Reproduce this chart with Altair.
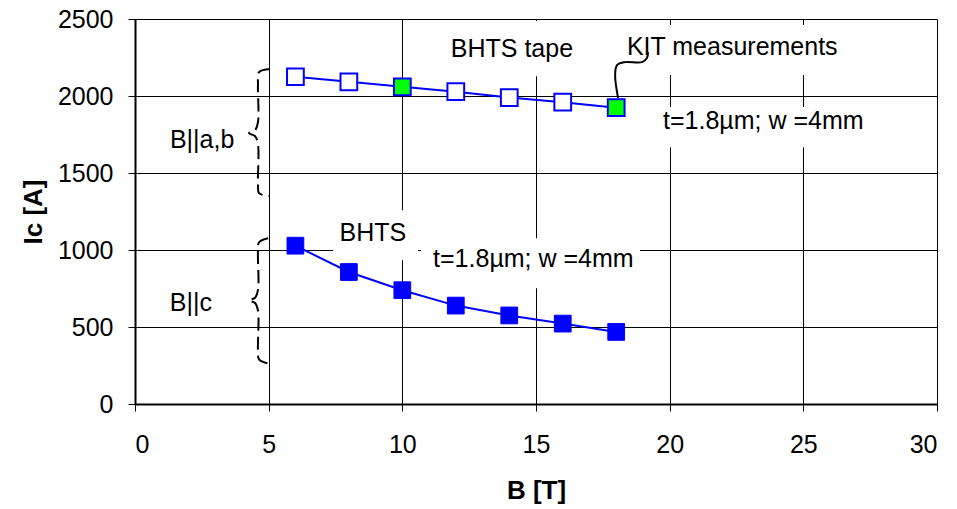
import altair as alt
import pandas as pd

# ---- data ----
B_field = [6, 8, 10, 12, 14, 16, 18]
ic_ab = [2125, 2092, 2060, 2028, 1990, 1960, 1924]   # B||a,b (open squares)
ic_c = [1028, 857, 739, 639, 575, 522, 468]          # B||c (filled squares)
kit_flag = [False, False, True, False, False, False, True]

x_ticks = [0, 5, 10, 15, 20, 25, 30]
y_ticks = [0, 500, 1000, 1500, 2000, 2500]

# annotation texts (data coordinates)
ann_text = ["BHTS tape", "KIT measurements", "t=1.8µm; w =4mm", "B||a,b", "BHTS", "t=1.8µm; w =4mm", "B||c"]
ann_x = [14.10, 18.40, 19.75, 2.51, 8.90, 11.15, 2.09]
ann_y = [2305, 2318, 1837, 1713, 1109, 940, 653]
ann_align = ["center", "left", "left", "center", "center", "left", "center"]

# white label boxes behind texts
box_x = [11.41, 18.14, 19.45, 7.41, 10.70]
box_x2 = [16.72, 26.82, 27.57, 10.59, 18.89]
box_y = [2487, 2461, 1928, 1258, 1076]
box_y2 = [2129, 2136, 1668, 933, 751]

# curly braces
brace_ab_x = [5.05, 4.64, 4.60, 4.60, 4.49, 4.26, 4.49, 4.60, 4.60, 4.64, 5.05]
brace_ab_y = [2175, 2155, 2071, 1831, 1778, 1759, 1739, 1687, 1421, 1369, 1349]
brace_c_x = [4.98, 4.64, 4.60, 4.60, 4.49, 4.26, 4.49, 4.60, 4.60, 4.64, 4.98]
brace_c_y = [1076, 1050, 990, 740, 690, 673, 656, 606, 350, 290, 263]

# KIT connector
conn_x = [18.07, 17.96, 18.03, 18.33, 18.97, 19.15, 19.19]
conn_y = [1986, 2136, 2201, 2220, 2220, 2246, 2285]

FONT = "Liberation Sans"
FS = 25

upper = pd.DataFrame({"B": B_field, "Ic": ic_ab, "kit": kit_flag})
lower = pd.DataFrame({"B": B_field, "Ic": ic_c})
ann = pd.DataFrame({"t": ann_text, "x": ann_x, "y": ann_y, "al": ann_align})
boxes = pd.DataFrame({"x": box_x, "x2": box_x2, "y": box_y, "y2": box_y2})
br1 = pd.DataFrame({"x": brace_ab_x, "y": brace_ab_y, "o": list(range(len(brace_ab_x)))})
br2 = pd.DataFrame({"x": brace_c_x, "y": brace_c_y, "o": list(range(len(brace_c_x)))})
conn = pd.DataFrame({"x": conn_x, "y": conn_y, "o": list(range(len(conn_x)))})

xs = alt.Scale(domain=[0, 30], nice=False)
ys = alt.Scale(domain=[0, 2500], nice=False)

X = alt.X("B:Q", scale=xs, axis=alt.Axis(values=x_ticks, title="B [T]", format="d"))
Y = alt.Y("Ic:Q", scale=ys, axis=alt.Axis(values=y_ticks, title="Ic [A]", format="d"))

box_layer = alt.Chart(boxes).mark_rect(color="white").encode(
    x=alt.X("x:Q", scale=xs), x2="x2:Q", y=alt.Y("y:Q", scale=ys), y2="y2:Q"
)

line_up = alt.Chart(upper).mark_line(color="#0000ff", strokeWidth=2).encode(x=X, y=Y)
pts_up = alt.Chart(upper).mark_point(shape="square", size=280, filled=True, stroke="#0000ff", strokeWidth=2, opacity=1).encode(
    x=X, y=Y,
    fill=alt.condition("datum.kit", alt.value("#00ff00"), alt.value("white")),
)
line_lo = alt.Chart(lower).mark_line(color="#0000ff", strokeWidth=2).encode(x=X, y=Y)
pts_lo = alt.Chart(lower).mark_point(shape="square", size=280, filled=True, fill="#0000ff", stroke="#0000ff", strokeWidth=1, opacity=1).encode(x=X, y=Y)

def brace(df):
    return alt.Chart(df).mark_line(color="black", strokeWidth=2, strokeDash=[13, 6], interpolate="catmull-rom").encode(
        x=alt.X("x:Q", scale=xs), y=alt.Y("y:Q", scale=ys), order="o:Q"
    )

conn_layer = alt.Chart(conn).mark_line(color="black", strokeWidth=2, interpolate="catmull-rom").encode(
    x=alt.X("x:Q", scale=xs), y=alt.Y("y:Q", scale=ys), order="o:Q"
)

def text_layer(align):
    return alt.Chart(ann[ann.al == align]).mark_text(
        font=FONT, fontSize=FS, align=align, baseline="middle", color="black"
    ).encode(x=alt.X("x:Q", scale=xs), y=alt.Y("y:Q", scale=ys), text="t:N")

chart = alt.layer(
    box_layer, line_up, line_lo, pts_lo, brace(br1), brace(br2), conn_layer, pts_up,
    text_layer("center"), text_layer("left"),
).properties(
    width=802, height=385,
    autosize=alt.AutoSizeParams(type="none"),
    padding={"left": 135, "top": 19, "right": 20, "bottom": 105},
).configure_view(stroke=None).configure_axis(
    grid=True, gridColor="black", gridWidth=1, gridOpacity=1,
    domainColor="black", domainWidth=2,
    tickColor="black", tickSize=7, tickWidth=1,
    labelFont=FONT, labelFontSize=FS, labelColor="black",
    titleFont=FONT, titleFontSize=26, titleFontWeight="bold", titleColor="black",
).configure_axisX(labelPadding=21, titlePadding=20).configure_axisY(labelPadding=15, titlePadding=11)

chart.save("out.html", embed_options={"renderer": "svg", "actions": False})
